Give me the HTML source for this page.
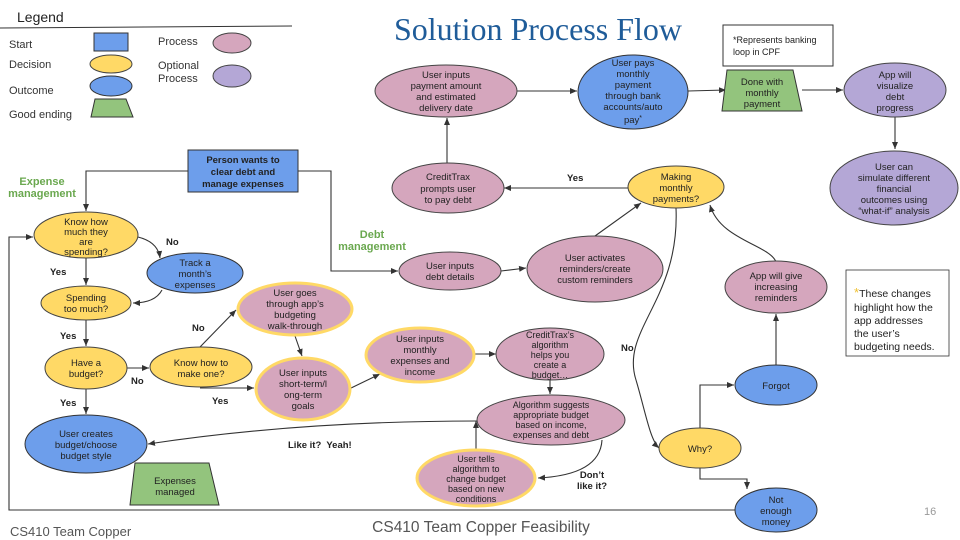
<!DOCTYPE html>
<html><head><meta charset="utf-8"><style>
html,body{margin:0;padding:0;background:#fff;}
svg{display:block;font-family:"Liberation Sans",Arial,sans-serif;}
.n{font-size:9.5px;fill:#222;text-anchor:middle;}
.b{font-size:9.5px;fill:#222;font-weight:bold;}
.g{font-size:11px;fill:#6aa84f;font-weight:bold;text-anchor:middle;}
.l{font-size:11px;fill:#333;}
.c{fill:none;stroke:#333;stroke-width:1.1;}
.pk{fill:#d5a6bd;stroke:#444;stroke-width:1;}
.ye{fill:#ffd966;stroke:#444;stroke-width:1;}
.bl{fill:#6d9eeb;stroke:#333;stroke-width:1;}
.gr{fill:#93c47d;stroke:#333;stroke-width:1;}
.pu{fill:#b4a7d6;stroke:#444;stroke-width:1;}
.pko{fill:#d5a6bd;stroke:#ffd966;stroke-width:3;}
</style></head><body>
<svg width="960" height="540" viewBox="0 0 960 540" xmlns="http://www.w3.org/2000/svg">
<defs><marker id="a" markerWidth="8" markerHeight="8" refX="7" refY="4" orient="auto" markerUnits="userSpaceOnUse"><path d="M0,1 L7,4 L0,7 z" fill="#333"/></marker></defs>

<text x="17" y="22" style="font-size:14px;fill:#222">Legend</text>
<line x1="0" y1="28" x2="292" y2="26" stroke="#333" stroke-width="1"/>
<text x="9" y="48" class="l">Start</text>
<text x="9" y="68" class="l">Decision</text>
<text x="9" y="94" class="l">Outcome</text>
<text x="9" y="118" class="l">Good ending</text>
<rect x="94" y="33" width="34" height="18" class="bl"/>
<ellipse cx="111" cy="64" rx="21" ry="9" class="ye"/>
<ellipse cx="111" cy="86" rx="21" ry="10" class="bl"/>
<polygon points="95,99 126,99 133,117 91,117" class="gr"/>
<text x="158" y="45" class="l">Process</text>
<text x="158" y="69" class="l">Optional</text>
<text x="158" y="82" class="l">Process</text>
<ellipse cx="232" cy="43" rx="19" ry="10" class="pk"/>
<ellipse cx="232" cy="76" rx="19" ry="11" class="pu"/>

<text x="538" y="40" style="font-family:'Liberation Serif',serif;font-size:32px;fill:#1f5c99" text-anchor="middle">Solution Process Flow</text>

<rect x="723" y="25" width="110" height="41" fill="#fff" stroke="#333"/>
<text x="733" y="43" style="font-size:9px;fill:#222">*Represents banking</text>
<text x="733" y="55" style="font-size:9px;fill:#222">loop in CPF</text>

<rect x="846" y="270" width="103" height="86" fill="#fff" stroke="#333" stroke-width="0.8"/>
<text x="854" y="297" style="font-size:10.5px;fill:#222"><tspan fill="#f1c232" font-size="13">*</tspan>These changes</text>
<text x="854" y="311" style="font-size:10.5px;fill:#222">highlight how the</text>
<text x="854" y="324" style="font-size:10.5px;fill:#222">app addresses</text>
<text x="854" y="337" style="font-size:10.5px;fill:#222">the user’s</text>
<text x="854" y="350" style="font-size:10.5px;fill:#222">budgeting needs.</text>

<path class="c" d="M188,171 H86 V211" marker-end="url(#a)"/>
<path class="c" d="M298,171 H331 V271 H398" marker-end="url(#a)"/>
<path class="c" d="M735,510 H9 V237 H33" marker-end="url(#a)"/>
<path class="c" d="M138,237 Q158,242 160,258" marker-end="url(#a)"/>
<path class="c" d="M86,258 V285" marker-end="url(#a)"/>
<path class="c" d="M162,290 Q155,303 133,303" marker-end="url(#a)"/>
<path class="c" d="M86,320 V346" marker-end="url(#a)"/>
<path class="c" d="M127,368 H149" marker-end="url(#a)"/>
<path class="c" d="M86,389 V414" marker-end="url(#a)"/>
<path class="c" d="M200,347 L236,310" marker-end="url(#a)"/>
<path class="c" d="M200,388 H254" marker-end="url(#a)"/>
<path class="c" d="M295,336 L302,356" marker-end="url(#a)"/>
<path class="c" d="M349,389 L380,374" marker-end="url(#a)"/>
<path class="c" d="M475,354 H496" marker-end="url(#a)"/>
<path class="c" d="M550,380 V394" marker-end="url(#a)"/>
<path class="c" d="M477,421 Q300,421 148,444" marker-end="url(#a)"/>
<path class="c" d="M602,440 Q600,475 538,478" marker-end="url(#a)"/>
<path class="c" d="M476,450 V421" marker-end="url(#a)"/>
<path class="c" d="M501,271 L526,268" marker-end="url(#a)"/>
<path class="c" d="M595,236 L641,203" marker-end="url(#a)"/>
<path class="c" d="M628,188 H504" marker-end="url(#a)"/>
<path class="c" d="M447,163 V118" marker-end="url(#a)"/>
<path class="c" d="M517,91 H577" marker-end="url(#a)"/>
<path class="c" d="M688,91 L726,90" marker-end="url(#a)"/>
<path class="c" d="M802,90 H843" marker-end="url(#a)"/>
<path class="c" d="M895,117 V149" marker-end="url(#a)"/>
<path class="c" d="M676,208 C680,300 620,330 636,380 C645,410 650,440 659,448" marker-end="url(#a)"/>
<path class="c" d="M700,428 V385 H734" marker-end="url(#a)"/>
<path class="c" d="M776,365 V314" marker-end="url(#a)"/>
<path class="c" d="M776,262 C770,245 720,240 710,205" marker-end="url(#a)"/>
<path class="c" d="M700,467 V479 H747 V489" marker-end="url(#a)"/>

<text x="166" y="245" class="b">No</text>
<text x="50" y="275" class="b">Yes</text>
<text x="60" y="339" class="b">Yes</text>
<text x="131" y="384" class="b">No</text>
<text x="60" y="406" class="b">Yes</text>
<text x="192" y="331" class="b">No</text>
<text x="212" y="404" class="b">Yes</text>
<text x="288" y="448" class="b">Like it?&#160; Yeah!</text>
<text x="592" y="478" class="b" text-anchor="middle">Don’t</text>
<text x="592" y="489" class="b" text-anchor="middle">like it?</text>
<text x="567" y="181" class="b">Yes</text>
<text x="621" y="351" class="b">No</text>
<text x="42" y="185" class="g">Expense</text>
<text x="42" y="197" class="g">management</text>
<text x="372" y="238" class="g">Debt</text>
<text x="372" y="250" class="g">management</text>

<rect x="188" y="150" width="110" height="42" class="bl"/>
<text class="n" font-weight="bold"><tspan x="243" y="163">Person wants to</tspan><tspan x="243" y="175">clear debt and</tspan><tspan x="243" y="187">manage expenses</tspan></text>

<ellipse cx="86" cy="235" rx="52" ry="23" class="ye"/>
<text class="n"><tspan x="86" y="225">Know how</tspan><tspan x="86" y="235">much they</tspan><tspan x="86" y="245">are</tspan><tspan x="86" y="255">spending?</tspan></text>
<ellipse cx="195" cy="273" rx="48" ry="20" class="bl"/>
<text class="n"><tspan x="195" y="266">Track a</tspan><tspan x="195" y="277">month’s</tspan><tspan x="195" y="288">expenses</tspan></text>
<ellipse cx="86" cy="303" rx="45" ry="17" class="ye"/>
<text class="n"><tspan x="86" y="301">Spending</tspan><tspan x="86" y="312">too much?</tspan></text>
<ellipse cx="86" cy="368" rx="41" ry="21" class="ye"/>
<text class="n"><tspan x="86" y="366">Have a</tspan><tspan x="86" y="377">budget?</tspan></text>
<ellipse cx="201" cy="367" rx="51" ry="20" class="ye"/>
<text class="n"><tspan x="201" y="366">Know how to</tspan><tspan x="201" y="377">make one?</tspan></text>
<ellipse cx="295" cy="309" rx="57" ry="26" class="pko"/>
<text class="n"><tspan x="295" y="296">User goes</tspan><tspan x="295" y="307">through app’s</tspan><tspan x="295" y="318">budgeting</tspan><tspan x="295" y="329">walk-through</tspan></text>
<ellipse cx="303" cy="389" rx="47" ry="31" class="pko"/>
<text class="n"><tspan x="303" y="376">User inputs</tspan><tspan x="303" y="387">short-term/l</tspan><tspan x="303" y="398">ong-term</tspan><tspan x="303" y="409">goals</tspan></text>
<ellipse cx="420" cy="355" rx="54" ry="27" class="pko"/>
<text class="n"><tspan x="420" y="342">User inputs</tspan><tspan x="420" y="353">monthly</tspan><tspan x="420" y="364">expenses and</tspan><tspan x="420" y="375">income</tspan></text>
<ellipse cx="86" cy="444" rx="61" ry="29" class="bl"/>
<text class="n"><tspan x="86" y="437">User creates</tspan><tspan x="86" y="448">budget/choose</tspan><tspan x="86" y="459">budget style</tspan></text>
<polygon points="135,463 209,463 219,505 130,505" class="gr"/>
<text class="n"><tspan x="175" y="484">Expenses</tspan><tspan x="175" y="495">managed</tspan></text>

<ellipse cx="448" cy="188" rx="56" ry="25" class="pk"/>
<text class="n"><tspan x="448" y="180">CreditTrax</tspan><tspan x="448" y="192">prompts user</tspan><tspan x="448" y="203">to pay debt</tspan></text>
<ellipse cx="450" cy="271" rx="51" ry="19" class="pk"/>
<text class="n"><tspan x="450" y="269">User inputs</tspan><tspan x="450" y="280">debt details</tspan></text>
<ellipse cx="595" cy="269" rx="68" ry="33" class="pk"/>
<text class="n"><tspan x="595" y="261">User activates</tspan><tspan x="595" y="272">reminders/create</tspan><tspan x="595" y="283">custom reminders</tspan></text>
<ellipse cx="550" cy="354" rx="54" ry="26" class="pk"/>
<text class="n" style="font-size:9px"><tspan x="550" y="338">CreditTrax’s</tspan><tspan x="550" y="348">algorithm</tspan><tspan x="550" y="358">helps you</tspan><tspan x="550" y="368">create a</tspan><tspan x="550" y="378">budget…</tspan></text>
<ellipse cx="551" cy="420" rx="74" ry="25" class="pk"/>
<text class="n" style="font-size:9px"><tspan x="551" y="408">Algorithm suggests</tspan><tspan x="551" y="418">appropriate budget</tspan><tspan x="551" y="428">based on income,</tspan><tspan x="551" y="438">expenses and debt</tspan></text>
<ellipse cx="476" cy="478" rx="59" ry="28" class="pko"/>
<text class="n" style="font-size:9px"><tspan x="476" y="462">User tells</tspan><tspan x="476" y="472">algorithm to</tspan><tspan x="476" y="482">change budget</tspan><tspan x="476" y="492">based on new</tspan><tspan x="476" y="502">conditions</tspan></text>

<ellipse cx="446" cy="91" rx="71" ry="26" class="pk"/>
<text class="n"><tspan x="446" y="78">User inputs</tspan><tspan x="446" y="89">payment amount</tspan><tspan x="446" y="100">and estimated</tspan><tspan x="446" y="111">delivery date</tspan></text>
<ellipse cx="633" cy="92" rx="55" ry="37" class="bl"/>
<text class="n"><tspan x="633" y="66">User pays</tspan><tspan x="633" y="77">monthly</tspan><tspan x="633" y="88">payment</tspan><tspan x="633" y="99">through bank</tspan><tspan x="633" y="110">accounts/auto</tspan><tspan x="633" y="123">pay<tspan dy="-3" font-size="7">*</tspan></tspan></text>
<polygon points="727,70 793,70 802,111 722,111" class="gr"/>
<text class="n"><tspan x="762" y="85">Done with</tspan><tspan x="762" y="96">monthly</tspan><tspan x="762" y="107">payment</tspan></text>
<ellipse cx="895" cy="90" rx="51" ry="27" class="pu"/>
<text class="n"><tspan x="895" y="78">App will</tspan><tspan x="895" y="89">visualize</tspan><tspan x="895" y="100">debt</tspan><tspan x="895" y="111">progress</tspan></text>
<ellipse cx="894" cy="188" rx="64" ry="37" class="pu"/>
<text class="n"><tspan x="894" y="170">User can</tspan><tspan x="894" y="181">simulate different</tspan><tspan x="894" y="192">financial</tspan><tspan x="894" y="203">outcomes using</tspan><tspan x="894" y="214">“what-if” analysis</tspan></text>
<ellipse cx="676" cy="187" rx="48" ry="21" class="ye"/>
<text class="n"><tspan x="676" y="180">Making</tspan><tspan x="676" y="191">monthly</tspan><tspan x="676" y="202">payments?</tspan></text>
<ellipse cx="776" cy="287" rx="51" ry="26" class="pk"/>
<text class="n"><tspan x="776" y="279">App will give</tspan><tspan x="776" y="290">increasing</tspan><tspan x="776" y="301">reminders</tspan></text>
<ellipse cx="776" cy="385" rx="41" ry="20" class="bl"/>
<text class="n" x="776" y="389">Forgot</text>
<ellipse cx="700" cy="448" rx="41" ry="20" class="ye"/>
<text class="n" x="700" y="452">Why?</text>
<ellipse cx="776" cy="510" rx="41" ry="22" class="bl"/>
<text class="n"><tspan x="776" y="503">Not</tspan><tspan x="776" y="514">enough</tspan><tspan x="776" y="525">money</tspan></text>

<text x="10" y="536" style="font-size:13px;fill:#555">CS410 Team Copper</text>
<text x="481" y="532" style="font-size:15.5px;fill:#555" text-anchor="middle">CS410 Team Copper Feasibility</text>
<text x="924" y="515" style="font-size:11px;fill:#999">16</text>
</svg>
</body></html>
